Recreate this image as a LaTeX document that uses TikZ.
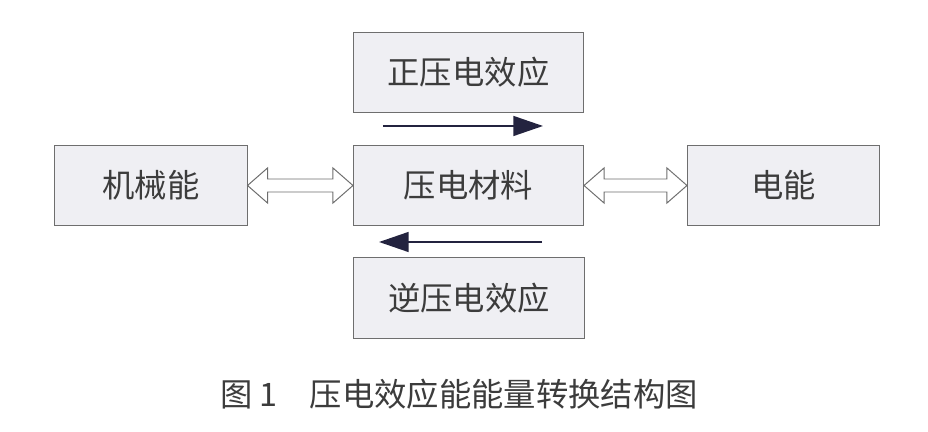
\documentclass[tikz,border=0pt]{standalone}
\usepackage{fontspec}
\newfontfamily\cjk{Noto Sans CJK SC}
\usetikzlibrary{calc,arrows.meta}
\definecolor{boxfill}{HTML}{EFEFF3}
\definecolor{edgegray}{HTML}{6E6E6E}
\definecolor{textgray}{HTML}{3C3C3C}
\definecolor{flowblue}{HTML}{23233F}
\tikzset{every node/.style={font=\cjk\fontsize{23}{26}\selectfont, text=textgray},
  box/.style={draw=edgegray, fill=boxfill, line width=0.7pt, minimum height=2cm, inner sep=0pt},
  hollow/.style={draw=edgegray, fill=white, line width=0.7pt, line join=miter},
  flow/.style={draw=flowblue, line width=1.5pt, -{Triangle[length=21pt,width=14pt]}}}
% hollow double arrow between two boxes of one row
\newcommand{\dblarrow}[2]{%
  \draw[hollow] (#1.east) -- ($(#1.east)+(20,17.5)$) -- ($(#1.east)+(20,6.5)$)
     -- ($(#2.west)+(-20,6.5)$) -- ($(#2.west)+(-20,17.5)$) -- (#2.west)
     -- ($(#2.west)+(-20,-17.5)$) -- ($(#2.west)+(-20,-6.5)$)
     -- ($(#1.east)+(20,-6.5)$) -- ($(#1.east)+(20,-17.5)$) -- cycle;}

\begin{document}
\begin{tikzpicture}[x=0.025cm, y=0.025cm]
   \useasboundingbox (0,0) rectangle (928,432);
   \node[box, minimum width=5.75cm] (pz) at (468.5,359.5) {正压电效应};
   \node[box, minimum width=5.75cm] (cl) at (468.5,246.5) {压电材料};
   \node[box, minimum width=5.75cm] (nz) at (469.0,134.0) {逆压电效应};
   \node[box, minimum width=4.8cm]  (jx) at (151.0,246.5) {机械能};
   \node[box, minimum width=4.8cm]  (dn) at (783.5,246.5) {电能};
   % energy exchange
   \dblarrow{jx}{cl}
   \dblarrow{cl}{dn}
   % direct and converse effect
   \coordinate (f1) at ($(cl.north west)+(30,19)$);
   \coordinate (f2) at ($(cl.north east)+(-41,19)$);
   \coordinate (b1) at ($(cl.south east)+(-42,-16)$);
   \coordinate (b2) at ($(cl.south west)+(26,-16)$);
   \draw[flow] (f1) -- (f2);
   \draw[flow] (b1) -- (b2);
   \node (cap) at (459,38) {图 1\quad 压电效应能能量转换结构图};
\end{tikzpicture}
\end{document}
